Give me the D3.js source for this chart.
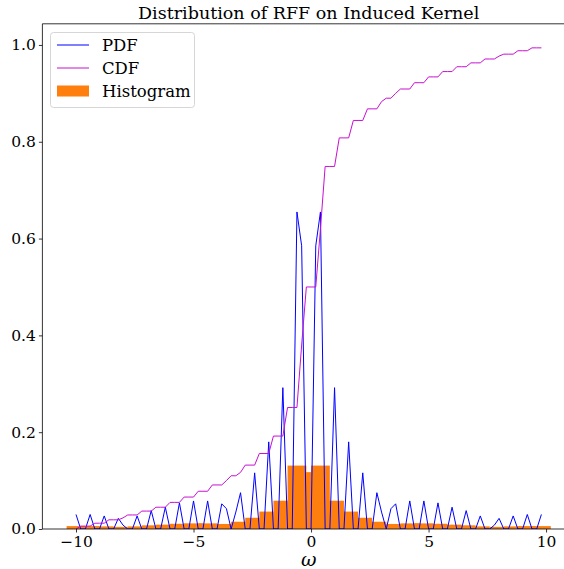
<!DOCTYPE html>
<html>
<head>
<meta charset="utf-8">
<script src="https://cdn.jsdelivr.net/npm/d3@7"></script>
<style>
  html, body { margin: 0; padding: 0; background: #fff; }
  svg { display: block; }
  text { font-family: "DejaVu Serif", serif; fill: #000; }
</style>
</head>
<body>
<svg id="chart" width="564" height="569"></svg>
<script>
// Frequency grid: omega = -10, -9.8, ..., 9.8
const omega = d3.range(100).map(i => +(-10 + 0.2 * i).toFixed(1));

// Spectral density sampled on the grid
const pdfValues = [
  0.030, 0, 0, 0.030, 0, 0, 0.027, 0, 0, 0.022,
  0.008, 0, 0, 0.027, 0, 0, 0.038, 0, 0, 0.045,
  0, 0, 0.054, 0, 0, 0.058, 0, 0, 0.058, 0,
  0, 0.052, 0.042, 0, 0.035, 0.075, 0, 0, 0.116, 0,
  0, 0.180, 0, 0, 0.292, 0, 0, 0.655, 0.585, 0,
  0, 0.585, 0.655, 0, 0, 0.292, 0, 0, 0.180, 0,
  0, 0.116, 0, 0, 0.075, 0.035, 0, 0.042, 0.052, 0,
  0, 0.058, 0, 0, 0.058, 0, 0, 0.054, 0, 0,
  0.045, 0, 0, 0.038, 0, 0, 0.027, 0, 0, 0.008,
  0.022, 0, 0, 0.027, 0, 0, 0.030, 0, 0, 0.030
];

// Cumulative distribution on the same grid
const cdfValues = [
  0.000, 0.006, 0.006, 0.006, 0.012, 0.012, 0.012, 0.019, 0.019, 0.019,
  0.023, 0.029, 0.029, 0.029, 0.037, 0.037, 0.037, 0.045, 0.045, 0.045,
  0.055, 0.055, 0.055, 0.066, 0.066, 0.066, 0.078, 0.078, 0.078, 0.091,
  0.091, 0.091, 0.100, 0.110, 0.110, 0.117, 0.132, 0.132, 0.132, 0.156,
  0.156, 0.156, 0.192, 0.192, 0.192, 0.251, 0.251, 0.251, 0.380, 0.500,
  0.500, 0.500, 0.620, 0.749, 0.749, 0.749, 0.808, 0.808, 0.808, 0.844,
  0.844, 0.844, 0.868, 0.868, 0.868, 0.883, 0.890, 0.890, 0.900, 0.909,
  0.909, 0.909, 0.922, 0.922, 0.922, 0.934, 0.934, 0.934, 0.945, 0.945,
  0.945, 0.955, 0.955, 0.955, 0.963, 0.963, 0.963, 0.971, 0.971, 0.971,
  0.977, 0.981, 0.981, 0.981, 0.988, 0.988, 0.988, 0.994, 0.994, 0.994
];

// Probability mass per grid point (bar heights)
const histValues = [
  0.0060, 0, 0, 0.0060, 0, 0, 0.0054, 0, 0, 0.0044,
  0.0016, 0, 0, 0.0054, 0, 0, 0.0076, 0, 0, 0.0090,
  0, 0, 0.0108, 0, 0, 0.0116, 0, 0, 0.0116, 0,
  0, 0.0104, 0.0084, 0, 0.0070, 0.0150, 0, 0, 0.0232, 0,
  0, 0.0360, 0, 0, 0.0584, 0, 0, 0.1310, 0.1170, 0,
  0, 0.1170, 0.1310, 0, 0, 0.0584, 0, 0, 0.0360, 0,
  0, 0.0232, 0, 0, 0.0150, 0.0070, 0, 0.0084, 0.0104, 0,
  0, 0.0116, 0, 0, 0.0116, 0, 0, 0.0108, 0, 0,
  0.0090, 0, 0, 0.0076, 0, 0, 0.0054, 0, 0, 0.0016,
  0.0044, 0, 0, 0.0054, 0, 0, 0.0060, 0, 0, 0.0060
];

const xTicks = [-10, -5, 0, 5, 10];
const yTicks = [0.0, 0.2, 0.4, 0.6, 0.8, 1.0];
const barWidth = 0.8;

const svg = d3.select("#chart");
const plotLeft = 42.4, plotRight = 575, plotTop = 23.8, plotBottom = 529;

const x = d3.scaleLinear().domain([-11.43, 11.23]).range([plotLeft, plotRight]);
const y = d3.scaleLinear().domain([0, 1.0437]).range([plotBottom, plotTop]);

svg.append("defs").append("clipPath").attr("id", "plotArea")
  .append("rect").attr("x", plotLeft).attr("y", plotTop)
  .attr("width", plotRight - plotLeft).attr("height", plotBottom - plotTop);

const plot = svg.append("g").attr("clip-path", "url(#plotArea)");

// Histogram bars (overlapping, default bar width 0.8)
plot.append("g").selectAll("rect")
  .data(omega.map((w, i) => ({ w, h: histValues[i] })).filter(d => d.h > 0))
  .join("rect")
  .attr("x", d => x(d.w - barWidth / 2))
  .attr("width", d => x(d.w + barWidth / 2) - x(d.w - barWidth / 2))
  .attr("y", d => y(d.h))
  .attr("height", d => y(0) - y(d.h))
  .attr("fill", "#ff7f0e");

const gridLine = d3.line().x((d, i) => x(omega[i])).y(d => y(d));
plot.append("path").datum(pdfValues)
  .attr("d", gridLine).attr("fill", "none")
  .attr("stroke", "#0000ff").attr("stroke-width", 1).attr("stroke-linejoin", "round");

plot.append("path").datum(cdfValues)
  .attr("d", gridLine).attr("fill", "none")
  .attr("stroke", "#c710d0").attr("stroke-width", 1).attr("stroke-linejoin", "round");

// Axes
const xAxis = d3.axisBottom(x).tickValues(xTicks).tickSize(3.5).tickPadding(3)
  .tickFormat(d => d < 0 ? "\u2212" + Math.abs(d) : String(d));
const gx = svg.append("g").attr("transform", `translate(0,${plotBottom})`).call(xAxis);
gx.select(".domain").remove();
gx.selectAll("line").attr("stroke", "#000").attr("stroke-width", 0.8);
gx.selectAll("text").attr("font-size", 15.5).attr("font-family", "DejaVu Serif");

const yAxis = d3.axisLeft(y).tickValues(yTicks).tickSize(3.5).tickPadding(3)
  .tickFormat(d3.format(".1f"));
const gy = svg.append("g").attr("transform", `translate(${plotLeft},0)`).call(yAxis);
gy.select(".domain").remove();
gy.selectAll("line").attr("stroke", "#000").attr("stroke-width", 0.8);
gy.selectAll("text").attr("font-size", 15.5).attr("font-family", "DejaVu Serif");

// Spines (right edge lies beyond the canvas)
const spine = svg.append("g").attr("stroke", "#000").attr("stroke-width", 0.8).attr("fill", "none");
spine.append("line").attr("x1", plotLeft).attr("x2", plotLeft).attr("y1", plotTop).attr("y2", plotBottom);
spine.append("line").attr("x1", plotLeft).attr("x2", plotRight).attr("y1", plotBottom).attr("y2", plotBottom);
spine.append("line").attr("x1", plotLeft).attr("x2", plotRight).attr("y1", plotTop).attr("y2", plotTop);

// Title and axis label
svg.append("text").attr("x", (plotLeft + plotRight) / 2).attr("y", 19).attr("text-anchor", "middle")
  .attr("font-size", 17.5).text("Distribution of RFF on Induced Kernel");
svg.append("text").attr("x", (plotLeft + plotRight) / 2).attr("y", 566).attr("text-anchor", "middle")
  .attr("font-size", 19).attr("font-style", "italic").text("\u03c9");

// Legend
const legend = svg.append("g");
legend.append("rect").attr("x", 50.5).attr("y", 32.5).attr("width", 144).attr("height", 75)
  .attr("rx", 3).attr("fill", "#fff").attr("fill-opacity", 0.8)
  .attr("stroke", "#d6d6d6").attr("stroke-width", 1);
const items = [
  { label: "PDF", type: "line", color: "#0000ff" },
  { label: "CDF", type: "line", color: "#c710d0" },
  { label: "Histogram", type: "patch", color: "#ff7f0e" }
];
items.forEach((it, k) => {
  const cy = 45 + k * 23;
  if (it.type === "line") {
    legend.append("line").attr("x1", 57).attr("x2", 89).attr("y1", cy).attr("y2", cy)
      .attr("stroke", it.color).attr("stroke-width", 1);
  } else {
    legend.append("rect").attr("x", 57).attr("y", cy - 5.5).attr("width", 32).attr("height", 11)
      .attr("fill", it.color);
  }
  legend.append("text").attr("x", 102).attr("y", cy).attr("dy", "0.35em")
    .attr("font-size", 16.5).text(it.label);
});
</script>
</body>
</html>
